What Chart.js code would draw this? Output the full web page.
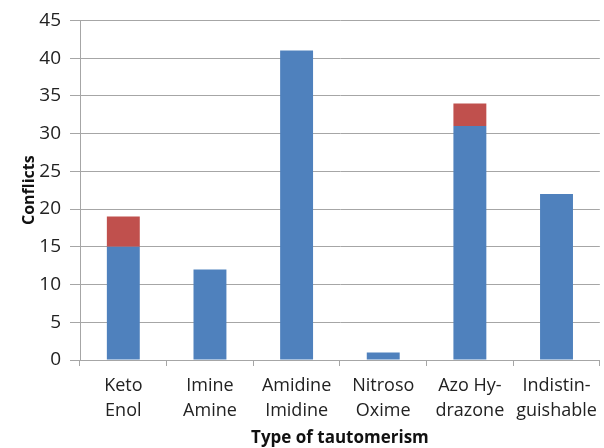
<!DOCTYPE html>
<html>
<head>
<meta charset="utf-8">
<script src="https://cdn.jsdelivr.net/npm/chart.js@4"></script>
<style>
  html, body { margin: 0; padding: 0; background: #fff; }
  #wrap { width: 604px; height: 448px; }
</style>
</head>
<body>
<div id="wrap"><canvas id="myChart" width="604" height="448"></canvas></div>
<script>
// categories (multi-line labels as in the original)
const categories = [
  ["Keto", "Enol"],
  ["Imine", "Amine"],
  ["Amidine", "Imidine"],
  ["Nitroso", "Oxime"],
  ["Azo Hy-", "drazone"],
  ["Indistin-", "guishable"]
];
// lower (blue) and upper (red) stacked parts
const blueValues = [15, 12, 41, 1, 31, 22];
const redValues = [4, 0, 0, 0, 3, 0];
const yTicks = [0, 5, 10, 15, 20, 25, 30, 35, 40, 45];

const fontFamily = "'Open Sans', 'Liberation Sans', sans-serif";
const gridColor = "#a6a6a6";

const ctx = document.getElementById("myChart");

const myChart = new Chart(ctx, {
  type: "bar",
  data: {
    labels: categories,
    datasets: [
      {
        label: "Series 1",
        data: blueValues,
        backgroundColor: "#4f81bd",
        barPercentage: 0.38,
        categoryPercentage: 1.0
      },
      {
        label: "Series 2",
        data: redValues,
        backgroundColor: "#c0504d",
        barPercentage: 0.38,
        categoryPercentage: 1.0
      }
    ]
  },
  options: {
    responsive: false,
    animation: false,
    layout: { padding: { top: 20, right: 2, left: 20, bottom: 0 } },
    plugins: {
      legend: { display: false },
      tooltip: { enabled: false }
    },
    scales: {
      x: {
        stacked: true,
        offset: true,
        grid: {
          offset: true,
          drawOnChartArea: false,
          drawTicks: true,
          tickLength: 6,
          color: gridColor
        },
        border: { color: gridColor },
        ticks: {
          color: "#222",
          padding: 7,
          maxRotation: 0,
          autoSkip: false,
          font: { family: fontFamily, size: 18, lineHeight: 1.4 }
        },
        title: {
          display: true,
          text: "Type of tautomerism",
          color: "#111",
          padding: { top: 2, bottom: 0 },
          font: { family: fontFamily, size: 17, weight: "bold" }
        },
        afterFit: (scale) => { scale.height = 88; }
      },
      y: {
        stacked: true,
        min: 0,
        max: 45,
        afterBuildTicks: (scale) => {
          scale.ticks = yTicks.map((v) => ({ value: v }));
        },
        grid: {
          color: gridColor,
          tickLength: 10,
          drawTicks: true
        },
        border: { color: gridColor },
        ticks: {
          color: "#222",
          padding: 9,
          font: { family: fontFamily, size: 19 }
        },
        title: {
          display: true,
          text: "Conflicts",
          color: "#111",
          padding: { top: 0, bottom: 4 },
          font: { family: fontFamily, size: 16, weight: "bold" }
        },
        afterFit: (scale) => { scale.width = 60; }
      }
    }
  }
});
</script>
</body>
</html>
